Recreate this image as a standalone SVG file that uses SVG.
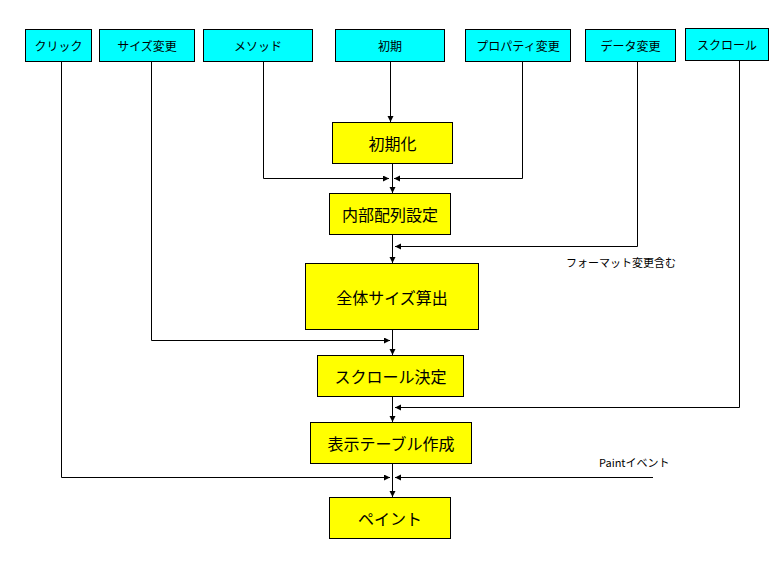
<svg xmlns="http://www.w3.org/2000/svg" width="777" height="564" viewBox="0 0 777 564">
<style>
.top rect{fill:#00ffff;stroke:#000;stroke-width:1}
.proc rect{fill:#ffff00;stroke:#000;stroke-width:1}
text{font-family:"Noto Sans CJK JP","Liberation Sans",sans-serif;fill:#000;text-anchor:middle;dominant-baseline:central}
.top text{font-size:12px}
.proc text{font-size:16px}
.lbl{font-size:11px;text-anchor:start;dominant-baseline:auto}
#connectors path{fill:none;stroke:#000;stroke-width:1}
</style>
<defs>
<marker id="ah" markerUnits="userSpaceOnUse" markerWidth="7" markerHeight="7" refX="6" refY="3" orient="auto">
<path d="M0,0 L6,3 L0,6 z" fill="#000"/>
</marker>
</defs>
<rect width="777" height="564" fill="#fff"/>
<g id="connectors">
<path d="M61.5,62 V477.5 H390" marker-end="url(#ah)"/>
<path d="M151.5,62 V340.5 H390" marker-end="url(#ah)"/>
<path d="M263.5,62 V178.5 H389" marker-end="url(#ah)"/>
<path d="M390.5,62 V122" marker-end="url(#ah)"/>
<path d="M522.5,62 V178.5 H394" marker-end="url(#ah)"/>
<path d="M637.5,62 V246.5 H395" marker-end="url(#ah)"/>
<path d="M739.5,61 V407.5 H395" marker-end="url(#ah)"/>
<path d="M653,477.5 H395" marker-end="url(#ah)"/>
<path d="M392.5,163 V193" marker-end="url(#ah)"/>
<path d="M392.5,234 V263" marker-end="url(#ah)"/>
<path d="M392.5,329 V355" marker-end="url(#ah)"/>
<path d="M392.5,396 V422" marker-end="url(#ah)"/>
<path d="M392.5,463 V497" marker-end="url(#ah)"/>
</g>
<g id="n-click" class="top"><rect x="25.5" y="29.5" width="66" height="32"/><text x="58.5" y="45.5">クリック</text></g>
<g id="n-resize" class="top"><rect x="99.5" y="29.5" width="95" height="32"/><text x="147" y="45.5">サイズ変更</text></g>
<g id="n-method" class="top"><rect x="203.5" y="29.5" width="109" height="32"/><text x="258" y="45.5">メソッド</text></g>
<g id="n-init0" class="top"><rect x="335.5" y="29.5" width="109" height="32"/><text x="390" y="45.5">初期</text></g>
<g id="n-prop" class="top"><rect x="465.5" y="29.5" width="105" height="32"/><text x="518" y="45.5">プロパティ変更</text></g>
<g id="n-data" class="top"><rect x="585.5" y="29.5" width="90" height="32"/><text x="630.5" y="45.5">データ変更</text></g>
<g id="n-scroll" class="top"><rect x="685.5" y="28.5" width="83" height="32"/><text x="727" y="44.5">スクロール</text></g>
<g id="p-init" class="proc"><rect x="332.5" y="122.5" width="120" height="41"/><text x="392.5" y="143">初期化</text></g>
<g id="p-array" class="proc"><rect x="329.5" y="193.5" width="121" height="41"/><text x="390" y="214">内部配列設定</text></g>
<g id="p-size" class="proc"><rect x="305.5" y="263.5" width="173" height="66"/><text x="392" y="296.5">全体サイズ算出</text></g>
<g id="p-scroll" class="proc"><rect x="317.5" y="355.5" width="146" height="41"/><text x="390.5" y="376">スクロール決定</text></g>
<g id="p-table" class="proc"><rect x="310.5" y="422.5" width="161" height="41"/><text x="391" y="443">表示テーブル作成</text></g>
<g id="p-paint" class="proc"><rect x="329.5" y="497.5" width="121" height="41"/><text x="390" y="518">ペイント</text></g>
<text class="lbl" x="566" y="267">フォーマット変更含む</text>
<text class="lbl" x="599" y="467">Paintイベント</text>
</svg>
